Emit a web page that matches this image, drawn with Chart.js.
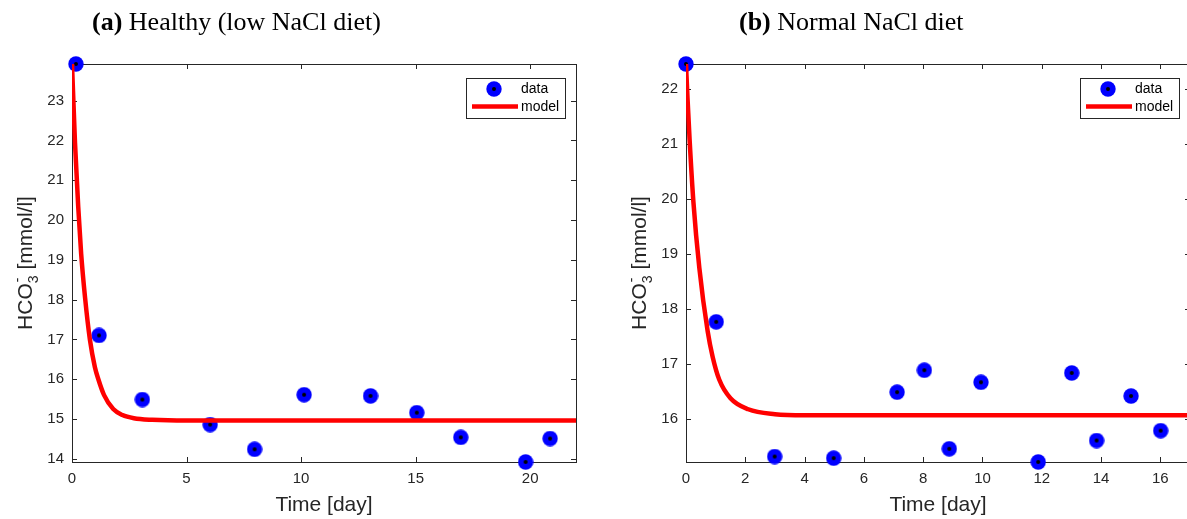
<!DOCTYPE html>
<html>
<head>
<meta charset="utf-8">
<script src="https://cdn.jsdelivr.net/npm/chart.js@4.4.0/dist/chart.umd.min.js"></script>
<style>
  html, body { margin:0; padding:0; background:#fff; overflow:hidden; width:1187px; height:519px; }
  .panel { position:absolute; top:0; width:600px; height:519px; }
  .ttl { position:absolute; top:9px; font-family:"Liberation Serif", "Times New Roman", serif; font-size:26px; line-height:26px; white-space:nowrap; color:#000; }
</style>
</head>
<body>
<div class="panel" style="left:0"><canvas id="esq" width="600" height="519"></canvas></div>
<div class="panel" style="left:600px"><canvas id="dir" width="600" height="519"></canvas></div>
<div class="ttl" style="left:92px"><b>(a)</b> Healthy (low NaCl diet)</div>
<div class="ttl" style="left:739px"><b>(b)</b> Normal NaCl diet</div>
<script>
// (a) healthy, low NaCl diet
const leftDays = [0.17, 1.18, 3.07, 6.03, 7.97, 10.13, 13.03, 15.05, 16.97, 19.8, 20.87];
const leftHco3 = [23.92, 17.10, 15.49, 14.86, 14.24, 15.61, 15.58, 15.16, 14.54, 13.92, 14.51];
const leftModelT = [0, 0.13, 0.27, 0.4, 0.57, 0.78, 1.0, 1.15, 1.4, 1.8, 2.2, 2.7, 3.5, 5, 10, 22];
const leftModelY = [23.92, 21.95, 20.35, 19.15, 18.05, 17.0, 16.3, 16.0, 15.6, 15.25, 15.1, 15.02, 14.98, 14.96, 14.96, 14.96];
const leftXTicks = [0, 5, 10, 15, 20];
const leftYTicks = [14, 15, 16, 17, 18, 19, 20, 21, 22, 23];

// (b) normal NaCl diet
const rightDays = [0, 1.02, 2.99, 4.98, 7.12, 8.04, 8.88, 9.95, 11.88, 13.01, 13.85, 15.01, 16.01];
const rightHco3 = [22.46, 17.77, 15.32, 15.29, 16.49, 16.89, 15.46, 16.67, 15.22, 16.84, 15.61, 16.42, 15.79];
const rightModelT = [0, 0.05, 0.12, 0.25, 0.45, 0.73, 0.9, 1.12, 1.5, 2.1, 3, 4, 6, 10, 17];
const rightModelY = [22.46, 21.85, 21.1, 19.95, 18.75, 17.6, 17.13, 16.72, 16.38, 16.18, 16.09, 16.07, 16.07, 16.07, 16.07];
const rightXTicks = [0, 2, 4, 6, 8, 10, 12, 14, 16];
const rightYTicks = [16, 17, 18, 19, 20, 21, 22];

const fonte = '"Liberation Sans", Arial, sans-serif';
const cinza = '#262626';

function marca() {
    const c = document.createElement('canvas');
    c.width = 16; c.height = 16;
    const g = c.getContext('2d');
    g.fillStyle = '#0000ff';
    g.beginPath(); g.arc(8, 8, 7.7, 0, 2 * Math.PI); g.fill();
    g.fillStyle = '#000';
    g.beginPath(); g.arc(8, 8, 2, 0, 2 * Math.PI); g.fill();
    return c;
}
const ponto = marca();

function rotuloY(ctx, xb, yc) {
    const big = '21px ' + fonte, small = '14px ' + fonte;
    ctx.font = big;
    const w1 = ctx.measureText('HCO').width;
    const w3 = ctx.measureText(' [mmol/l]').width;
    ctx.font = small;
    const w2 = ctx.measureText('3').width;
    let p = -(w1 + w2 + w3) / 2;
    ctx.save();
    ctx.translate(xb, yc);
    ctx.rotate(-Math.PI / 2);
    ctx.fillStyle = cinza;
    ctx.textAlign = 'left';
    ctx.textBaseline = 'alphabetic';
    ctx.font = big; ctx.fillText('HCO', p, 0); p += w1;
    ctx.font = small; ctx.fillText('3', p, 6); ctx.fillText('-', p + 1, -10); p += w2;
    ctx.font = big; ctx.fillText(' [mmol/l]', p, 0);
    ctx.restore();
}

// frame with inward ticks, drawn under the data
const moldura = {
    id: 'moldura',
    beforeDatasetsDraw(chart) {
        const { ctx, chartArea: a, scales: { x, y } } = chart;
        ctx.save();
        ctx.strokeStyle = cinza;
        ctx.lineWidth = 1;
        ctx.strokeRect(a.left + 0.5, a.top + 0.5, a.right - a.left, a.bottom - a.top);
        ctx.beginPath();
        x.ticks.forEach(t => {
            const px = Math.round(x.getPixelForValue(t.value)) + 0.5;
            ctx.moveTo(px, a.bottom); ctx.lineTo(px, a.bottom - 5);
            ctx.moveTo(px, a.top); ctx.lineTo(px, a.top + 5);
        });
        y.ticks.forEach(t => {
            const py = Math.round(y.getPixelForValue(t.value)) + 0.5;
            ctx.moveTo(a.left, py); ctx.lineTo(a.left + 5, py);
            ctx.moveTo(a.right, py); ctx.lineTo(a.right - 5, py);
        });
        ctx.stroke();
        ctx.restore();
    },
    afterDraw(chart) {
        const { ctx, chartArea: a } = chart;
        // axis titles
        ctx.save();
        ctx.fillStyle = cinza;
        ctx.font = '21px ' + fonte;
        ctx.textAlign = 'center';
        ctx.textBaseline = 'alphabetic';
        ctx.fillText('Time [day]', (a.left + a.right) / 2, 511);
        ctx.restore();
        rotuloY(ctx, a.left - 40, (a.top + a.bottom) / 2);

        // legend box
        const bx = a.right - 110, by = 78;
        ctx.save();
        ctx.fillStyle = '#fff';
        ctx.fillRect(bx, by, 99, 40);
        ctx.strokeStyle = cinza;
        ctx.lineWidth = 1;
        ctx.strokeRect(bx + 0.5, by + 0.5, 99, 40);
        ctx.drawImage(ponto, bx + 28 - 8, by + 11 - 8);
        ctx.strokeStyle = '#ff0000';
        ctx.lineWidth = 4.5;
        ctx.beginPath(); ctx.moveTo(bx + 6, by + 28.5); ctx.lineTo(bx + 52, by + 28.5); ctx.stroke();
        ctx.fillStyle = '#000';
        ctx.font = '14px ' + fonte;
        ctx.textAlign = 'left';
        ctx.textBaseline = 'middle';
        ctx.fillText('data', bx + 55, by + 11);
        ctx.fillText('model', bx + 55, by + 29);
        ctx.restore();
    }
};

function desenha(canvasId, dias, valores, modT, modY, xt, yt, xmax, ymin, ymax, larguraY, padDir) {
    const ctx = document.getElementById(canvasId).getContext('2d');
    return new Chart(ctx, {
        type: 'scatter',
        data: {
            datasets: [{
                label: 'data',
                data: dias.map((d, i) => ({ x: d, y: valores[i] })),
                pointStyle: ponto,
                pointRadius: 8,
                clip: false,
                order: 1
            }, {
                label: 'model',
                data: modT.map((t, i) => ({ x: t, y: modY[i] })),
                showLine: true,
                borderColor: '#ff0000',
                borderWidth: 4.5,
                pointRadius: 0,
                cubicInterpolationMode: 'monotone',
                clip: 0,
                order: 0
            }]
        },
        options: {
            responsive: false,
            animation: false,
            layout: { padding: { top: 64, right: padDir, left: 0, bottom: 0 } },
            plugins: { legend: { display: false }, tooltip: { enabled: false } },
            scales: {
                x: {
                    type: 'linear', min: 0, max: xmax,
                    afterFit: s => { s.height = 57; },
                    afterBuildTicks: s => { s.ticks = xt.map(v => ({ value: v })); },
                    grid: { display: false, drawTicks: false },
                    border: { display: false },
                    ticks: { font: { family: fonte, size: 15 }, color: cinza, padding: 8, maxRotation: 0, autoSkip: false }
                },
                y: {
                    type: 'linear', min: ymin, max: ymax,
                    afterFit: s => { s.width = larguraY; },
                    afterBuildTicks: s => { s.ticks = yt.map(v => ({ value: v })); },
                    grid: { display: false, drawTicks: false },
                    border: { display: false },
                    ticks: { font: { family: fonte, size: 15 }, color: cinza, padding: 8, autoSkip: false }
                }
            }
        },
        plugins: [moldura]
    });
}

desenha('esq', leftDays, leftHco3, leftModelT, leftModelY, leftXTicks, leftYTicks, 22, 13.92, 23.92, 72, 24);
desenha('dir', rightDays, rightHco3, rightModelT, rightModelY, rightXTicks, rightYTicks, 17, 15.22, 22.46, 86, 10);
</script>
</body>
</html>
